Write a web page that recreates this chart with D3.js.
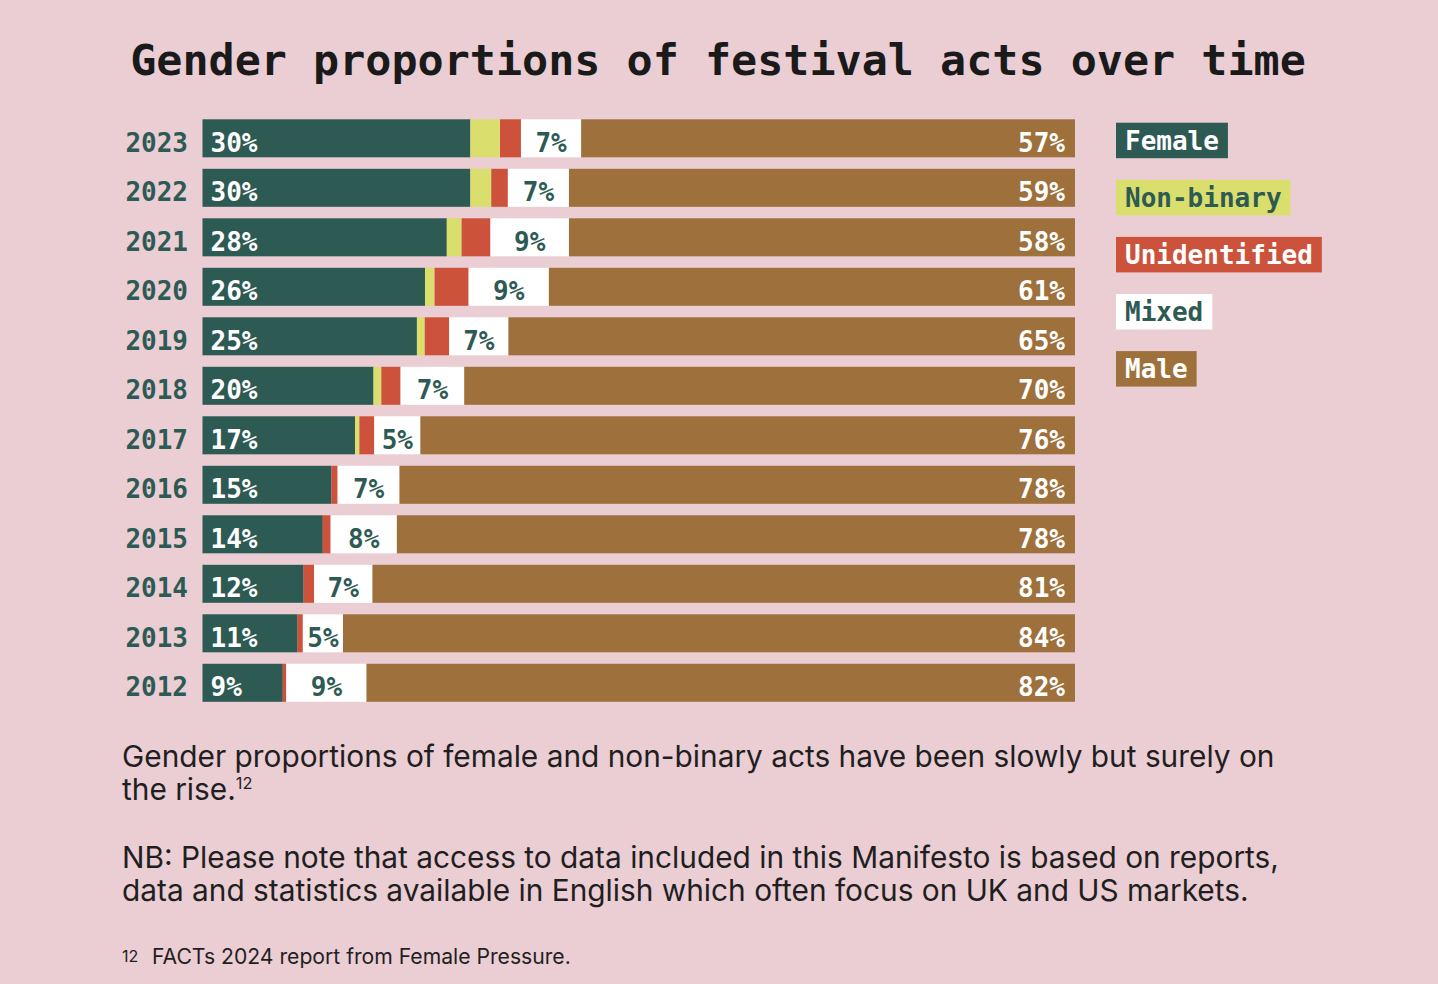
<!DOCTYPE html>
<html>
<head>
<meta charset="utf-8">
<script src="https://cdn.jsdelivr.net/npm/d3@7"></script>
<style>
	html, body { margin: 0; padding: 0; background: #ebcdd4; }
	svg { display: block; }
	.mono { font-family: "DejaVu Sans Mono", "Liberation Mono", monospace; font-weight: bold; }
	.body-text { font-family: Inter, "Noto Sans", sans-serif; fill: #1f1f1f; }
</style>
</head>
<body>
<div id="chart"></div>
<script>
var years = ["2023", "2022", "2021", "2020", "2019", "2018", "2017", "2016", "2015", "2014", "2013", "2012"];

// bar shares (%)
var female       = [30.7, 30.7, 28.0, 25.5, 24.6, 19.6, 17.5, 14.8, 13.8, 11.6, 10.9, 9.2];
var nonBinary    = [3.4, 2.4, 1.7, 1.1, 0.9, 0.9, 0.5, 0, 0, 0, 0, 0];
var unidentified = [2.4, 1.9, 3.3, 3.9, 2.8, 2.2, 1.7, 0.7, 0.9, 1.2, 0.6, 0.4];
var mixed        = [6.9, 7.0, 9.0, 9.2, 6.8, 7.3, 5.3, 7.1, 7.6, 6.7, 4.6, 9.2];
var male         = [56.6, 58.0, 58.0, 60.3, 65.0, 70.0, 75.1, 77.5, 77.8, 80.6, 83.9, 81.2];

// printed labels
var femaleLabels = [30, 30, 28, 26, 25, 20, 17, 15, 14, 12, 11, 9];
var mixedLabels  = [7, 7, 9, 9, 7, 7, 5, 7, 8, 7, 5, 9];
var maleLabels   = [57, 59, 58, 61, 65, 70, 76, 78, 78, 81, 84, 82];

var seriesKeys   = ["Female", "Non-binary", "Unidentified", "Mixed", "Male"];
var seriesColors = ["#2e5a54", "#d9de6c", "#cd523b", "#ffffff", "#9e703c"];
var legendText   = ["#ffffff", "#2e5a54", "#ffffff", "#2e5a54", "#ffffff"];

var W = 1438, H = 984;
var GREEN = "#2e5a54";
var LABEL_DROP = 4;

drawChart();

function drawChart() {

	var rows = years.map(function(y, i) {
		return {
			year: y,
			"Female": female[i],
			"Non-binary": nonBinary[i],
			"Unidentified": unidentified[i],
			"Mixed": mixed[i],
			"Male": male[i],
			fl: femaleLabels[i],
			xl: mixedLabels[i],
			ml: maleLabels[i]
		};
	});

	var stack = d3.stack()
		.keys(seriesKeys)
		.offset(d3.stackOffsetExpand);
	var layers = stack(rows);

	var x = d3.scaleLinear().domain([0, 1]).range([202.5, 1075]);
	var y = d3.scaleBand()
		.domain(years)
		.range([119.3, 701.8])
		.paddingInner(0.232)
		.paddingOuter(0);
	var color = d3.scaleOrdinal().domain(seriesKeys).range(seriesColors);

	var svg = d3.select("#chart").append("svg")
		.attr("width", W)
		.attr("height", H);

	svg.append("rect")
		.attr("width", W)
		.attr("height", H)
		.attr("fill", "#ebcdd4");

	//title
	svg.append("text")
		.attr("class", "mono")
		.attr("x", 718)
		.attr("y", 75)
		.attr("text-anchor", "middle")
		.attr("font-size", 43.4)
		.attr("fill", "#1a1a1a")
		.text("Gender proportions of festival acts over time");

	//bars
	svg.append("g")
		.selectAll("g")
		.data(layers)
		.enter().append("g")
		.attr("fill", function(d) { return color(d.key); })
		.selectAll("rect")
		.data(function(d) { return d; })
		.enter().append("rect")
		.attr("x", function(d) { return x(d[0]); })
		.attr("y", function(d) { return y(d.data.year); })
		.attr("width", function(d) { return Math.max(0, x(d[1]) - x(d[0])); })
		.attr("height", y.bandwidth());

	//year axis
	var yAxis = d3.axisLeft(y).tickSize(0).tickPadding(0);
	var ax = svg.append("g")
		.attr("transform", "translate(188," + LABEL_DROP + ")")
		.call(yAxis);
	ax.select(".domain").remove();
	ax.selectAll("text")
		.attr("class", "mono")
		.attr("font-size", 26)
		.attr("fill", GREEN)
		.attr("dy", "0.36em");

	var fem = layers[0], mix = layers[3], mal = layers[4];
	var labels = svg.append("g").attr("class", "mono").attr("font-size", 26);

	function midY(d) {
		return y(d.data.year) + y.bandwidth() / 2 + LABEL_DROP;
	}

	labels.selectAll(".fl")
		.data(fem)
		.enter().append("text")
		.attr("x", function(d) { return x(d[0]) + 8; })
		.attr("y", midY)
		.attr("dy", "0.36em")
		.attr("fill", "#ffffff")
		.text(function(d) { return d.data.fl + "%"; });

	labels.selectAll(".xl")
		.data(mix)
		.enter().append("text")
		.attr("x", function(d) { return (x(d[0]) + x(d[1])) / 2; })
		.attr("y", midY)
		.attr("dy", "0.36em")
		.attr("text-anchor", "middle")
		.attr("fill", GREEN)
		.text(function(d) { return d.data.xl + "%"; });

	labels.selectAll(".ml")
		.data(mal)
		.enter().append("text")
		.attr("x", function(d) { return x(d[1]) - 10; })
		.attr("y", midY)
		.attr("dy", "0.36em")
		.attr("text-anchor", "end")
		.attr("fill", "#ffffff")
		.text(function(d) { return d.data.ml + "%"; });

	//legend
	var legend = svg.append("g")
		.selectAll("g")
		.data(seriesKeys)
		.enter().append("g")
		.attr("transform", function(d, i) { return "translate(1116," + (122.7 + i * 57.1) + ")"; });

	var ltext = legend.append("text")
		.attr("class", "mono")
		.attr("x", 9)
		.attr("y", 18)
		.attr("dy", "0.36em")
		.attr("font-size", 26)
		.attr("fill", function(d, i) { return legendText[i]; })
		.text(function(d) { return d; });

	legend.insert("rect", "text")
		.attr("width", function(d, i) { return ltext.nodes()[i].getComputedTextLength() + 18; })
		.attr("height", 35.5)
		.attr("fill", function(d) { return color(d); });

	//notes below
	var notes = svg.append("g").attr("class", "body-text");

	function line(txt, yy, size, width) {
		var t = notes.append("text")
			.attr("x", 122)
			.attr("y", yy)
			.attr("font-size", size)
			.text(txt);
		if(width) {
			var w = t.node().getComputedTextLength();
			t.attr("font-size", size * width / w);
		}
		return t;
	}

	var l1 = line("Gender proportions of female and non-binary acts have been slowly but surely on", 767, 28, 1153);
	var fs = +l1.attr("font-size");
	var l2 = line("the rise.", 800, fs);
	l2.append("tspan")
		.attr("font-size", fs * 0.55)
		.attr("dy", -11)
		.text("12");
	line("NB: Please note that access to data included in this Manifesto is based on reports,", 868, fs);
	line("data and statistics available in English which often focus on UK and US markets.", 901, fs);

	var foot = notes.append("text")
		.attr("x", 122)
		.attr("y", 964)
		.attr("font-size", 16);
	foot.append("tspan").attr("dy", -2).text("12");
	var fnote = foot.append("tspan")
		.attr("x", 152)
		.attr("dy", 2)
		.attr("font-size", 20)
		.text("FACTs 2024 report from Female Pressure.");
	var fw = fnote.node().getComputedTextLength();
	fnote.attr("font-size", 20 * 419 / fw);

}
</script>
</body>
</html>
